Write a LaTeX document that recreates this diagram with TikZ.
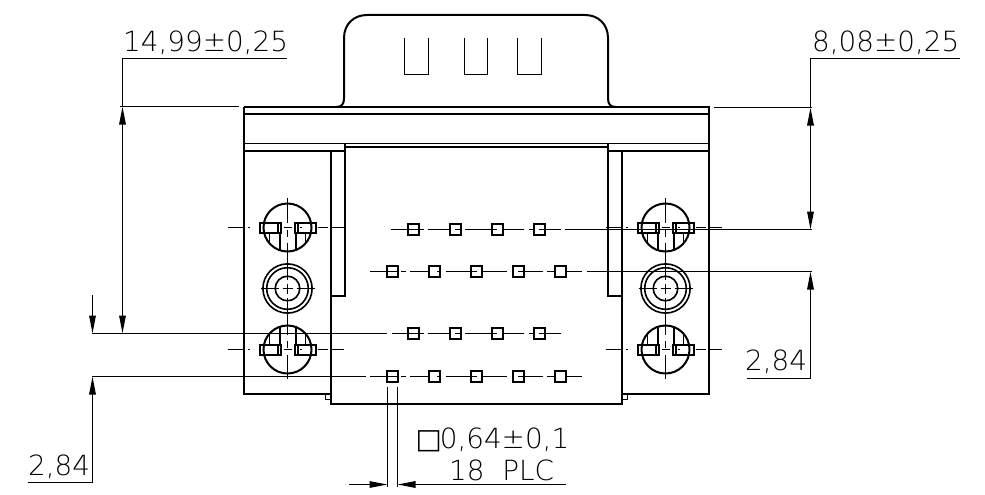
\documentclass[tikz,border=0pt]{standalone}
\usepackage{fontspec}
\setmainfont{DejaVu Sans ExtraLight}
\newfontfamily\boxfont{DejaVu Sans}
\usetikzlibrary{arrows.meta}
\tikzset{
  thick line/.style={line width=2pt},
  thin line/.style={line width=1.5pt},
  dim line/.style={line width=1.5pt},
  dim arrow/.style={line width=1.5pt,{Triangle[length=18pt,width=6.5pt]}-{Triangle[length=18pt,width=6.5pt]}},
  end arrow/.style={line width=1.5pt,-{Triangle[length=18pt,width=6.5pt]}},
  dim text/.style={inner sep=0pt,anchor=base west,font=\fontsize{27.8pt}{30pt}\selectfont}
}
\newcommand{\segs}[2]{\foreach \a/\b in {#2}{\draw[thin line] (\a,#1) -- (\b,#1);}}
\newcommand{\pinrow}[2]{\foreach \c in {#2}{\draw[thick line] (\c-5.5,#1-5.5) rectangle (\c+5.5,#1+5.5);}}
\newcommand{\latchhole}[3]{%
  \begin{scope}[shift={(#1,#2)},yscale=#3]
    \draw[thick line] (0,0) circle (24);
    \draw[thick line] (-27.5,-5) rectangle (-6.5,5);
    \draw[thick line] (7.5,-5) rectangle (28.5,5);
    \draw[thin line] (-9.5,-5) -- (-9.5,5) (10.5,-5) -- (10.5,5);
    \draw[thin line] (-18,5) -- (-18,15.9) (18,5) -- (18,15.9);
    \draw[thick line] (-7.5,5) -- (-7.5,22.8) (8,5) -- (8,22.6);
    \draw[thin line] (0,-29.7) -- (0,-5) (0,2) -- (0,9) (0,15) -- (0,32);
    \foreach \a/\b in {-60/-44,-40/-38,12/14,30/40,43/56,-4/4}{\draw[thin line] (\a,0) -- (\b,0);}
  \end{scope}}
\newcommand{\ringhole}[2]{%
  \begin{scope}[shift={(#1,#2)}]
    \draw[line width=1.6pt] (0,0) circle (24.6) circle (20.8) circle (12.3);
    \draw[thin line] (-27,0) -- (-9,0) (-5,0) -- (5,0) (9,0) -- (27,0);
    \draw[thin line] (0,-31) -- (0,-9) (0,-5) -- (0,5) (0,9) -- (0,37);
  \end{scope}}
\begin{document}
\begin{tikzpicture}[x=1pt,y=-1pt]
\useasboundingbox (0,0) rectangle (985,495);
% tab
\draw[thick line] (336,107) .. controls (342,107) and (344,104) .. (344,98) -- (344,38)
  .. controls (344,24) and (354,15) .. (367,15) -- (585,15)
  .. controls (598,15) and (608,24) .. (608,38) -- (608,98)
  .. controls (608,104) and (610,107) .. (616,107);
\draw[thin line] (404.5,38.5) -- (404.5,74.5) -- (428.5,74.5) -- (428.5,38.5);
\draw[thin line] (464.5,38.5) -- (464.5,74.5) -- (487.5,74.5) -- (487.5,38.5);
\draw[thin line] (517.5,38.5) -- (517.5,74.5) -- (541.5,74.5) -- (541.5,38.5);
% body
\draw[thick line] (244,107) -- (709,107) -- (709,394) -- (622,394);
\draw[thick line] (244,107) -- (244,394) -- (331,394);
\draw[thick line] (244,114) -- (709,114);
\draw[thin line] (244,143.5) -- (709,143.5);
\draw[thick line] (345,147) -- (608,147);
\draw[thick line] (244,151) -- (345,151) (608,151) -- (709,151);
\draw[thick line] (345,143) -- (345,296) -- (331,296);
\draw[thick line] (608,143) -- (608,296) -- (622,296);
\draw[thick line] (331,151) -- (331,404) -- (622,404) -- (622,151);
\draw[thin line] (331,393.5) -- (325.5,393.5) -- (325.5,399.5) -- (331,399.5);
\draw[thin line] (622,393.5) -- (627.5,393.5) -- (627.5,399.5) -- (622,399.5);
% holes
\latchhole{287.5}{227.5}{1}
\ringhole{287.5}{288.5}
\latchhole{287.5}{349.5}{-1}
\latchhole{665.5}{227.5}{1}
\ringhole{665.5}{288.5}
\latchhole{665.5}{349.5}{-1}
% pins
\pinrow{229.5}{413.5,455.5,497.5,539.5}
\pinrow{271.5}{392.5,434.5,476.5,518.5,560.5}
\pinrow{333.5}{413.5,455.5,497.5,539.5}
\pinrow{376.5}{392.5,434.5,476.5,518.5,560.5}
\segs{229.5}{391/424,428/449.5,455/461,465/497,502.5/524,529/533.5,539/561,565/812}
\segs{271.5}{370/398,401/406,410/429,437/440,446/471,471/477,482/507,512/513,518/523,523/543,547/555,566/582,587/812}
\segs{333.5}{92/387,392/424,428/449.5,455/461,465/497,502.5/524,529/533.5,539/561}
\segs{376.5}{92/366,370/398,401/406,410/429,437/440,446/471,471/477,482/507,512/513,518/523,523/543,547/555,566/582}
% dimensions
\coordinate (a1) at (122.5,106.5); \coordinate (a2) at (122.5,333.5);
\coordinate (a0) at (122.5,58.5); \coordinate (a3) at (287,58.5);
\draw[dim line] (a3) -- (a0) -- (a1);
\draw[dim arrow] (a1) -- (a2);
\coordinate (e1) at (120,106.5); \coordinate (e2) at (239,106.5);
\draw[dim line] (e1) -- (e2);
\coordinate (b1) at (810.5,107.5); \coordinate (b2) at (810.5,229.5);
\coordinate (b0) at (810.5,58.5); \coordinate (b3) at (960,58.5);
\draw[dim line] (b3) -- (b0) -- (b1);
\draw[dim arrow] (b1) -- (b2);
\coordinate (f1) at (713.5,107.5); \coordinate (f2) at (812,107.5);
\draw[dim line] (f1) -- (f2);
\coordinate (c1) at (810.5,271.5); \coordinate (c2) at (810.5,378.5); \coordinate (c3) at (747,378.5);
\draw[end arrow] (c3) -- (c2) -- (c1);
\coordinate (g1) at (92.5,295); \coordinate (g2) at (92.5,333.5);
\draw[end arrow] (g1) -- (g2);
\coordinate (h1) at (92.5,376.5); \coordinate (h2) at (92.5,482.5); \coordinate (h3) at (28,482.5);
\draw[end arrow] (h3) -- (h2) -- (h1);
\coordinate (v1) at (387.5,386.5); \coordinate (v2) at (387.5,486.5);
\coordinate (w1) at (397.5,386.5); \coordinate (w2) at (397.5,486.5);
\draw[dim line] (v1) -- (v2) (w1) -- (w2);
\coordinate (k1) at (349,484.5); \coordinate (k2) at (387.5,484.5);
\coordinate (l1) at (566,484.5); \coordinate (l2) at (397.5,484.5);
\draw[end arrow] (k1) -- (k2);
\draw[end arrow] (l1) -- (l2);
% texts
\node[dim text] (t1) at (123,52) {14,99±0,25};
\node[dim text] (t2) at (812,52) {8,08±0,25};
\node[dim text] (t3) at (745,370) {2,84};
\node[dim text] (t4) at (28,475) {2,84};
\node[dim text] (t5) at (417,448) {\hspace{-0.06em}{\boxfont □}\hspace{-0.07em}0,64±0,1};
\node[dim text] (t6) at (449,480) {18\hspace{0.32em} PLC};
\end{tikzpicture}
\end{document}
